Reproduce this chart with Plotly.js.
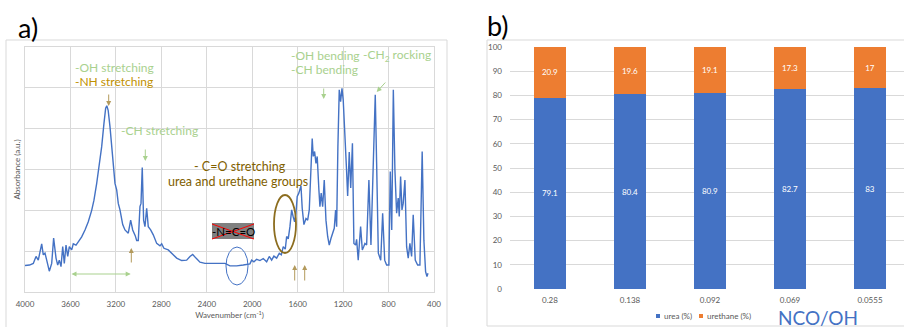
<!DOCTYPE html>
<html>
<head>
<meta charset="utf-8">
<script src="https://cdn.plot.ly/plotly-3.0.1.min.js"></script>
<style>
html,body{margin:0;padding:0;background:#fff;overflow:hidden;}
#chart{width:904px;height:327px;}
</style>
</head>
<body>
<div id="chart"></div>
<script>
// ---------- Data: panel a) IR spectrum ----------
const wavenumber = [4000,3960,3927,3903,3883,3853,3839,3824,3809,3786,3765,3748,3727,3712,3698,3683,3668,3654,3639,3624,3610,3589,3575,3551,3531,3501,3472,3443,3413,3393,3369,3346,3325,3305,3290,3280,3268,3252,3237,3223,3208,3193,3179,3164,3140,3120,3091,3070,3052,3030,3017,3003,2988,2979,2968,2956,2944,2929,2915,2894,2871,2841,2812,2797,2777,2739,2709,2665,2621,2577,2548,2524,2495,2460,2416,2372,2284,2240,2196,2137,2079,2020,2005,1985,1961,1932,1903,1873,1850,1829,1809,1785,1762,1744,1727,1709,1697,1683,1668,1653,1640,1627,1615,1604,1590,1571,1560,1545,1527,1512,1498,1483,1472,1463,1451,1439,1428,1413,1404,1393,1380,1366,1351,1336,1322,1307,1292,1278,1266,1257,1246,1234,1222,1210,1199,1185,1170,1160,1146,1133,1118,1105,1090,1081,1067,1046,1031,1019,1008,993,973,955,935,917,905,890,869,852,834,817,797,785,772,758,744,729,715,706,694,682,671,656,641,627,612,597,583,565,544,524,504,489,474,462,453];
const absorbance = [0.65,0.66,0.70,0.87,0.78,1.18,0.91,0.95,0.78,0.51,0.70,1.32,0.83,0.66,0.78,0.62,1.11,0.70,1.15,0.87,1.11,1.03,1.18,1.15,1.23,1.35,1.52,1.72,2.00,2.25,2.66,3.07,3.56,4.13,4.50,4.56,4.45,4.05,3.56,3.30,2.66,2.50,2.17,2.01,1.65,1.52,1.44,1.76,1.52,1.38,1.26,1.26,2.09,2.17,3.05,1.76,1.60,2.05,1.60,1.52,1.40,1.19,1.13,1.18,1.07,1.03,0.95,0.83,0.77,0.78,0.87,0.92,0.83,0.73,0.70,0.70,0.69,0.70,0.64,0.64,0.66,0.69,0.78,0.74,0.80,0.77,0.82,0.74,0.87,0.78,0.88,0.83,0.95,0.91,1.11,1.05,1.36,1.30,1.60,2.01,1.85,1.72,1.93,2.34,2.42,2.60,2.05,1.65,1.80,1.76,2.01,3.15,3.76,3.32,3.44,3.15,3.32,2.50,2.09,2.42,2.09,2.74,1.76,1.36,1.15,1.31,1.47,1.56,2.01,1.60,3.56,4.95,4.66,4.99,4.70,4.00,3.00,2.35,3.43,2.55,3.64,1.19,1.15,1.29,0.78,1.60,1.03,1.11,1.19,1.15,2.74,1.15,3.15,4.83,3.15,0.95,0.78,1.93,0.78,0.66,0.66,2.95,1.52,4.95,2.99,1.93,2.30,1.85,2.83,2.01,2.17,2.74,1.11,0.83,1.19,0.87,1.89,0.78,0.66,0.66,3.44,1.27,0.50,0.38,0.46];
const waveTicks = [4000,3600,3200,2800,2400,2000,1600,1200,800,400];

// ---------- Data: panel b) urea / urethane ----------
const ratioCategories = ['0.28','0.138','0.092','0.069','0.0555'];
const ureaPct = [79.1, 80.4, 80.9, 82.7, 83];
const urethanePct = [20.9, 19.6, 19.1, 17.3, 17];

// ---------- helpers ----------
const W = 904, H = 327;
const px = x => x / W;
const py = y => 1 - y / H;
const FONT = 'Lato, "Open Sans", sans-serif';
const GREEN = '#a9d18e', GOLD = '#bf9000', OLIVE = '#7f6000', TAN = '#b39a5c';
const GRID = '#d9d9d9', TICK = '#595959';

function label(text, x, y, color, size, anchor) {
  return {xref:'paper', yref:'paper', x:px(x), y:py(y), text:text, showarrow:false,
          xanchor:anchor||'left', yanchor:'middle', font:{family:FONT, size:size, color:color}};
}
function arrow(xTip, yTip, ax, ay, color, side) {
  return {xref:'paper', yref:'paper', x:px(xTip), y:py(yTip), ax:ax, ay:ay, text:'',
          showarrow:true, arrowhead:2, arrowsize:1, arrowwidth:1, arrowcolor:color,
          arrowside:side||'end'};
}

const traces = [
  {type:'scatter', mode:'lines', x:wavenumber, y:absorbance, xaxis:'x', yaxis:'y',
   line:{color:'#4472c4', width:1.4}, hoverinfo:'skip', showlegend:false},
  {type:'bar', name:'urea (%)', x:ratioCategories, y:ureaPct, xaxis:'x2', yaxis:'y2',
   marker:{color:'#4472c4', line:{width:0}}, width:0.4, texttemplate:'%{y}',
   textposition:'inside', insidetextanchor:'middle', textangle:0,
   insidetextfont:{family:FONT, size:8, color:'#ffffff'}, showlegend:false},
  {type:'bar', name:'urethane (%)', x:ratioCategories, y:urethanePct, xaxis:'x2', yaxis:'y2',
   marker:{color:'#ed7d31', line:{width:0}}, width:0.4, texttemplate:'%{y}',
   textposition:'inside', insidetextanchor:'middle', textangle:0,
   insidetextfont:{family:FONT, size:8, color:'#ffffff'}, showlegend:false}
];

const annotations = [
  label('a)', 16, 28, '#000', 27),
  label('b)', 485, 25, '#000', 27),
  label('-OH stretching', 73, 67, GREEN, 12),
  label('-NH stretching', 73, 82, GOLD, 12),
  label('-CH stretching', 119, 130, GREEN, 12),
  label('- C=O stretching', 192, 166, OLIVE, 12.5),
  label('urea and urethane groups', 166, 181, OLIVE, 12.5),
  label('-OH bending', 289, 55, GREEN, 12),
  label('-CH bending', 289, 70, GREEN, 12),
  label('-CH<sub>2</sub> rocking', 361, 55, GREEN, 12),
  label('-N=C=O', 233, 231.5, '#000', 11.5, 'center'),
  label('C-H stretching', 99, 333, GOLD, 12),
  label('- C-O stretching', 270, 333, GOLD, 12),
  // arrows
  arrow(108.7, 106, 0, -13, TAN),
  arrow(145.3, 161, 0, -13, GREEN),
  arrow(131.3, 248, 0, 16, TAN),
  arrow(130.7, 274, -60.7, 0, GREEN, 'end+start'),
  arrow(294.7, 265, 0, 17, TAN),
  arrow(304.7, 265, 0, 17, TAN),
  arrow(323.7, 99, 0, -12, GREEN),
  arrow(376.7, 92, 10, -11, GREEN),
  // panel b legend + axis caption
  label('urea (%)', 662, 316, TICK, 8),
  label('urethane (%)', 705, 316, TICK, 8),
  label('NCO/OH', 776, 317, '#4472c4', 19)
];

function rectPx(x0, y0, x1, y1, line, fill) {
  return {type:'rect', xref:'paper', yref:'paper', x0:px(x0), x1:px(x1), y0:py(y0), y1:py(y1),
          line:line, fillcolor:fill||'rgba(0,0,0,0)', layer:'above'};
}
function linePx(x0, y0, x1, y1, color, width) {
  return {type:'line', xref:'paper', yref:'paper', x0:px(x0), x1:px(x1), y0:py(y0), y1:py(y1),
          line:{color:color, width:width}, layer:'above'};
}
function ellipsePx(cx, cy, rx, ry, color, width) {
  return {type:'circle', xref:'paper', yref:'paper', x0:px(cx-rx), x1:px(cx+rx), y0:py(cy+ry), y1:py(cy-ry),
          line:{color:color, width:width}, layer:'above'};
}

const shapes = [
  rectPx(6, 40, 447, 345, {color:GRID, width:1}),
  rectPx(487, 40, 915, 326, {color:GRID, width:1}),
  rectPx(212, 223, 254, 239, {width:0}, '#808080'),
  linePx(212, 224, 254, 239, '#ff0000', 1),
  linePx(212, 239, 254, 224, '#ff0000', 1),
  ellipsePx(237, 266, 11, 19, '#4472c4', 1),
  ellipsePx(285, 224, 11, 29, '#8c6d1f', 1.8),
  rectPx(656, 314, 660, 318, {width:0}, '#4472c4'),
  rectPx(699, 314, 703, 318, {width:0}, '#ed7d31')
];

const layout = {
  width:W, height:H, margin:{l:0, r:0, t:0, b:0},
  paper_bgcolor:'#ffffff', plot_bgcolor:'rgba(0,0,0,0)',
  font:{family:FONT, color:TICK},
  barmode:'stack', showlegend:false,
  xaxis:{domain:[px(25), px(434)], range:[4000, 400], tickvals:waveTicks,
         tickfont:{size:8, color:TICK}, ticks:'', ticklabelstandoff:4,
         showgrid:true, gridcolor:GRID, gridwidth:1, zeroline:false,
         showline:true, mirror:true, linecolor:GRID, linewidth:1, anchor:'y',
         title:{text:'Wavenumber (cm<sup>-1</sup>)', font:{size:8, color:TICK}, standoff:4}},
  yaxis:{domain:[py(292), py(47)], range:[0, 6], dtick:1, showticklabels:false,
         ticks:'', showgrid:true, gridcolor:GRID, zeroline:false,
         showline:true, mirror:true, linecolor:GRID, linewidth:1, anchor:'x',
         title:{text:'Absorbance (a.u.)', font:{size:8, color:TICK}, standoff:2}},
  xaxis2:{domain:[px(510), 1], range:[-0.5, 4.425], type:'category', anchor:'y2',
          tickfont:{size:8, color:TICK}, ticks:'', ticklabelstandoff:5,
          showgrid:false, zeroline:false, showline:false},
  yaxis2:{domain:[py(289), py(47)], range:[0, 100], dtick:10, anchor:'x2',
          tickfont:{size:8, color:TICK}, ticks:'', ticklabelstandoff:7,
          showgrid:true, gridcolor:GRID, zeroline:false, showline:false},
  annotations:annotations,
  shapes:shapes
};

Plotly.newPlot('chart', traces, layout, {staticPlot:true, displayModeBar:false});
</script>
</body>
</html>
